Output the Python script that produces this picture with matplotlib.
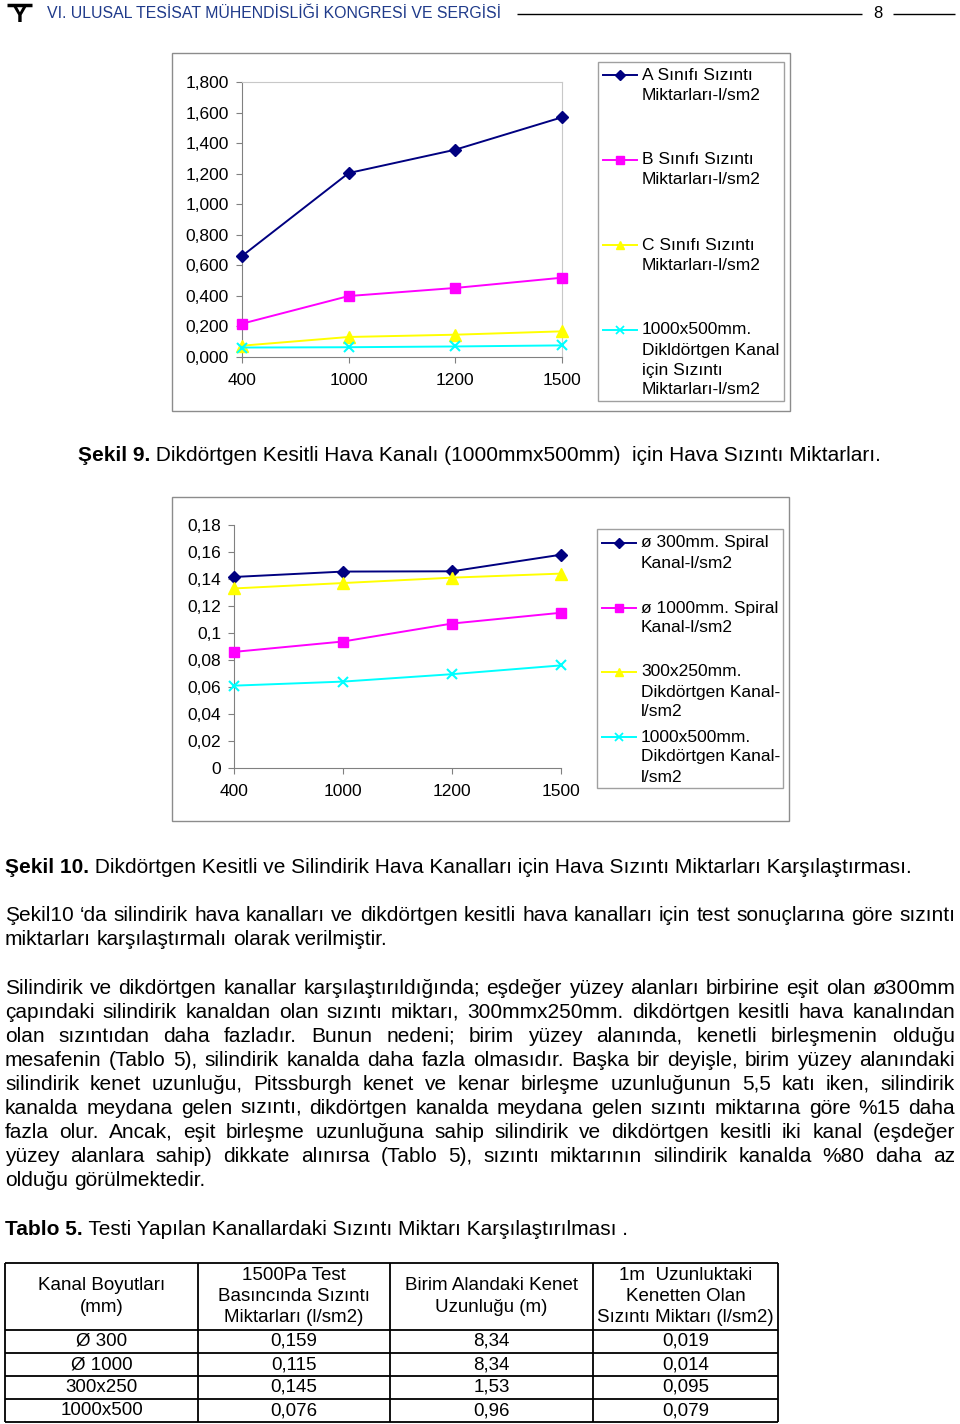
import matplotlib
matplotlib.use("Agg")
import matplotlib.pyplot as plt
import matplotlib.transforms as mtransforms
from matplotlib import font_manager
from matplotlib.lines import Line2D
from matplotlib.patches import Rectangle

plt.rcParams["font.family"] = ["Liberation Sans", "DejaVu Sans"]

W, H = 960, 1424

# ---- veriler ----
kategoriler = ["400", "1000", "1200", "1500"]

# Sekil 9
s9_a = [0.661, 1.204, 1.357, 1.569]
s9_b = [0.218, 0.399, 0.452, 0.519]
s9_c = [0.074, 0.131, 0.146, 0.168]
s9_d = [0.062, 0.064, 0.069, 0.076]
s9_yticks = [0.0, 0.2, 0.4, 0.6, 0.8, 1.0, 1.2, 1.4, 1.6, 1.8]
s9_etiketler = [
    ["A Sınıfı Sızıntı", "Miktarları-l/sm2"],
    ["B Sınıfı Sızıntı", "Miktarları-l/sm2"],
    ["C Sınıfı Sızıntı", "Miktarları-l/sm2"],
    ["1000x500mm.", "Dikldörtgen Kanal", "için Sızıntı", "Miktarları-l/sm2"],
]

# Sekil 10
s10_spiral300 = [0.1415, 0.1455, 0.1457, 0.158]
s10_spiral1000 = [0.086, 0.0937, 0.107, 0.115]
s10_dik300 = [0.133, 0.137, 0.141, 0.144]
s10_dik1000 = [0.061, 0.064, 0.0695, 0.076]
s10_yticks = [0, 0.02, 0.04, 0.06, 0.08, 0.1, 0.12, 0.14, 0.16, 0.18]
s10_etiketler = [
    ["ø 300mm. Spiral", "Kanal-l/sm2"],
    ["ø 1000mm. Spiral", "Kanal-l/sm2"],
    ["300x250mm.", "Dikdörtgen Kanal-", "l/sm2"],
    ["1000x500mm.", "Dikdörtgen Kanal-", "l/sm2"],
]

# Tablo 5
tablo_basliklar = [
    ["Kanal Boyutları", "(mm)"],
    ["1500Pa Test", "Basıncında Sızıntı", "Miktarları (l/sm2)"],
    ["Birim Alandaki Kenet", "Uzunluğu (m)"],
    ["1m  Uzunluktaki", "Kenetten Olan", "Sızıntı Miktarı (l/sm2)"],
]
tablo_kanal = ["Ø 300", "Ø 1000", "300x250", "1000x500"]
tablo_sizinti = ["0,159", "0,115", "0,145", "0,076"]
tablo_kenet = ["8,34", "8,34", "1,53", "0,96"]
tablo_kenet_sizinti = ["0,019", "0,014", "0,095", "0,079"]

paragraf1 = [
    "Şekil10 ‘da silindirik hava kanalları ve dikdörtgen kesitli hava kanalları için test sonuçlarına göre sızıntı",
    "miktarları karşılaştırmalı olarak verilmiştir.",
]
paragraf2 = [
    "Silindirik ve dikdörtgen kanallar karşılaştırıldığında; eşdeğer yüzey alanları birbirine eşit olan ø300mm",
    "çapındaki silindirik kanaldan olan sızıntı miktarı, 300mmx250mm. dikdörtgen kesitli hava kanalından",
    "olan sızıntıdan daha fazladır. Bunun nedeni; birim yüzey alanında, kenetli birleşmenin olduğu",
    "mesafenin (Tablo 5), silindirik kanalda daha fazla olmasıdır. Başka bir deyişle, birim yüzey alanındaki",
    "silindirik kenet uzunluğu, Pitssburgh kenet ve kenar birleşme  uzunluğunun 5,5 katı iken, silindirik",
    "kanalda meydana gelen sızıntı, dikdörtgen kanalda meydana gelen sızıntı miktarına göre %15 daha",
    "fazla olur. Ancak, eşit birleşme uzunluğuna sahip silindirik ve dikdörtgen kesitli iki kanal (eşdeğer",
    "yüzey alanlara sahip) dikkate alınırsa (Tablo 5), sızıntı miktarının silindirik kanalda %80 daha az",
    "olduğu görülmektedir.",
]

stiller = [("#000080", "D", 6), ("#ff00ff", "s", 7), ("#ffff00", "^", 8), ("#00ffff", "x", 7)]

GRAFIK_YAZI = 12.5
YAZI = 15
TABLO = 13.5

fig = plt.figure(figsize=(W / 100, H / 100), dpi=100)
fig.patch.set_facecolor("white")
px = mtransforms.Affine2D().scale(1 / W, -1 / H).translate(0, 1) + fig.transFigure
renderer = fig.canvas.get_renderer()


def genislik(t):
    return t.get_window_extent(renderer).width


def cizgi(x0, x1, y0, y1, lw=1.0, color="black"):
    fig.add_artist(Line2D([x0, x1], [y0, y1], transform=px, color=color, lw=lw,
                          solid_capstyle="butt"))


def font_var(ad):
    try:
        font_manager.findfont(font_manager.FontProperties(family=ad), fallback_to_default=False)
        return True
    except ValueError:
        return False


# ---- ust bilgi ----
cizgi(7, 32, 5, 5, lw=2.5)
fig.text(19, 16, "Y", transform=px, fontsize=17, fontweight="bold", ha="center", va="center")
baslik_font = "Liberation Sans Narrow" if font_var("Liberation Sans Narrow") else "Liberation Sans"
bt = fig.text(47, 14, "VI. ULUSAL TESİSAT MÜHENDİSLİĞİ KONGRESİ VE SERGİSİ", transform=px,
              fontsize=11, family=baslik_font, color="#1f3a8a", va="center")
bt.set_fontsize(11 * 455 / genislik(bt))
cizgi(517, 862, 14, 14, lw=1.0)
fig.text(878, 14, "8", transform=px, fontsize=12, family=baslik_font, ha="center", va="center")
cizgi(893, 955, 14, 14, lw=1.0)


# ---- grafikler ----
def grafik(kutu, seriler, yticks, fmt, kenar):
    sol, ust, sag, alt = kutu
    ax = fig.add_axes([sol / W, 1 - alt / H, (sag - sol) / W, (alt - ust) / H])
    xs = list(range(len(kategoriler)))
    for vals, (c, m, ms) in zip(seriler, stiller):
        ax.plot(xs, vals, color=c, lw=1.4, marker=m, ms=ms, mec=c, mfc=c,
                mew=1.5 if m == "x" else 1.0, clip_on=False, zorder=3)
    ax.set_xlim(0, len(xs) - 1)
    ax.set_ylim(yticks[0], yticks[-1])
    ax.set_xticks(xs)
    ax.set_xticklabels(kategoriler)
    ax.set_yticks(yticks)
    ax.set_yticklabels([fmt(v) for v in yticks])
    ax.tick_params(direction="out", length=4.3, width=0.8, color="#808080", labelsize=GRAFIK_YAZI)
    ax.tick_params(axis="x", pad=7)
    ax.tick_params(axis="y", pad=5)
    for s in ("left", "bottom"):
        ax.spines[s].set_color("#808080")
        ax.spines[s].set_linewidth(0.8)
    for s in ("top", "right"):
        ax.spines[s].set_visible(kenar)
        ax.spines[s].set_color("#c8c8c8")
        ax.spines[s].set_linewidth(0.8)
    ax.patch.set_visible(False)
    return ax


def lejant(x0, ys, etiketler):
    for y, satirlar, (c, m, ms) in zip(ys, etiketler, stiller):
        fig.add_artist(Line2D([x0, x0 + 34], [y, y], transform=px, color=c, lw=1.4))
        fig.add_artist(Line2D([x0 + 17], [y], transform=px, color=c, marker=m, ms=ms * 0.8,
                              mec=c, mfc=c, mew=1.3 if m == "x" else 1.0))
        for i, s in enumerate(satirlar):
            fig.text(x0 + 39, y + 20 * i, s, transform=px, fontsize=GRAFIK_YAZI, va="center")


def cerceve(x0, y0, x1, y1, color="#8c8c8c"):
    fig.add_artist(Rectangle((x0, y0), x1 - x0, y1 - y0, transform=px, fill=False,
                             edgecolor=color, lw=1.0))


# Sekil 9
cerceve(172, 53, 790, 411)
cerceve(598, 62, 784, 401, color="#a0a0a0")
grafik((242, 82, 562, 357), [s9_a, s9_b, s9_c, s9_d], s9_yticks,
       lambda v: f"{v:.3f}".replace(".", ","), True)
lejant(603, [75, 160, 245, 330], s9_etiketler)

# Sekil 10
cerceve(172, 497, 789, 821)
cerceve(597, 529, 783, 788, color="#a0a0a0")
grafik((234, 525, 561, 768), [s10_spiral300, s10_spiral1000, s10_dik300, s10_dik1000], s10_yticks,
       lambda v: f"{v:g}".replace(".", ","), False)
lejant(602, [543, 608, 672, 737], s10_etiketler)


# ---- metin ----
def altyazi(x, y, kalin, duz):
    t = fig.text(x, y, kalin, transform=px, fontsize=YAZI, fontweight="bold", va="baseline")
    fig.text(x + genislik(t), y, duz, transform=px, fontsize=YAZI, va="baseline")


def iki_yana(y, metin, x0=5, x1=955, son=False):
    kelimeler = metin.split()
    parcalar = [fig.text(0, y, k, transform=px, fontsize=YAZI, va="baseline") for k in kelimeler]
    gen = [genislik(p) for p in parcalar]
    ref = fig.text(0, 0, "a a", fontsize=YAZI)
    ref2 = fig.text(0, 0, "aa", fontsize=YAZI)
    bosluk = genislik(ref) - genislik(ref2)
    ref.remove()
    ref2.remove()
    if son or len(kelimeler) < 2:
        ara = bosluk
    else:
        ara = max((x1 - x0 - sum(gen)) / (len(kelimeler) - 1), bosluk * 0.6)
    x = x0
    for p, g in zip(parcalar, gen):
        p.set_x(x)
        x += g + ara


altyazi(78, 461, "Şekil 9.", " Dikdörtgen Kesitli Hava Kanalı (1000mmx500mm)  için Hava Sızıntı Miktarları.")
altyazi(5, 873, "Şekil 10.",
        " Dikdörtgen Kesitli ve Silindirik Hava Kanalları için Hava Sızıntı Miktarları Karşılaştırması.")

for i, s in enumerate(paragraf1):
    iki_yana(921 + 24 * i, s, son=(i == len(paragraf1) - 1))
for i, s in enumerate(paragraf2):
    iki_yana(994 + 24 * i, s, son=(i == len(paragraf2) - 1))

altyazi(5, 1235, "Tablo 5.", " Testi Yapılan Kanallardaki Sızıntı Miktarı Karşılaştırılması .")

# ---- tablo ----
sutunlar = [5, 198, 390, 593, 778]
satir_ust, baslik_alt, satir_h = 1263, 1330, 23
n = len(tablo_kanal)
alt = baslik_alt + n * satir_h
for x in sutunlar:
    cizgi(x, x, satir_ust, alt, lw=1.3)
cizgi(sutunlar[0], sutunlar[-1], satir_ust, satir_ust, lw=1.3)
for k in range(n + 1):
    y = baslik_alt + k * satir_h
    cizgi(sutunlar[0], sutunlar[-1], y, y, lw=1.3)

for j, baslik in enumerate(tablo_basliklar):
    xc = (sutunlar[j] + sutunlar[j + 1]) / 2
    yc = (satir_ust + baslik_alt) / 2
    m = len(baslik)
    for i, s in enumerate(baslik):
        fig.text(xc, yc + (i - (m - 1) / 2) * 21.5, s, transform=px, fontsize=TABLO,
                 ha="center", va="center")

for j, sutun in enumerate([tablo_kanal, tablo_sizinti, tablo_kenet, tablo_kenet_sizinti]):
    xc = (sutunlar[j] + sutunlar[j + 1]) / 2
    for k, v in enumerate(sutun):
        yc = baslik_alt + k * satir_h + satir_h / 2
        fig.text(xc, yc, v, transform=px, fontsize=TABLO, ha="center", va="center")

fig.savefig("out.png", dpi=100, facecolor="white")
